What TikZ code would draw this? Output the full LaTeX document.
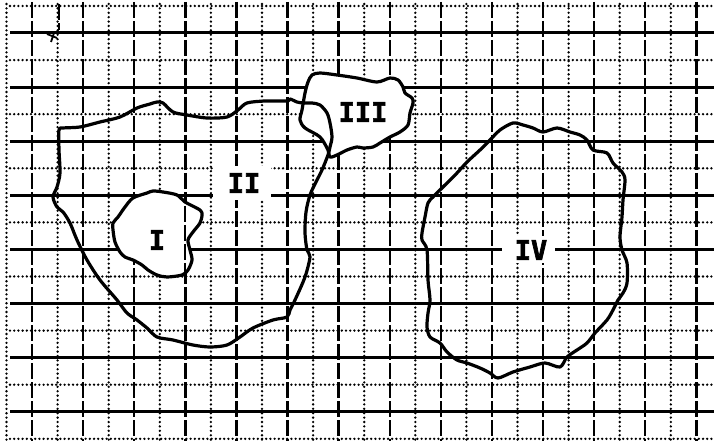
\documentclass[tikz,border=0pt]{standalone}
\usepackage{fontspec}
\newfontfamily\regionfont[FakeBold=2.5]{DejaVu Sans Mono}
\usetikzlibrary{positioning}

\begin{document}
\begin{tikzpicture}[x=1bp, y=-1bp,
    hmajor/.style={line width=3bp, black},
    hminor/.style={line width=2.6bp, line cap=round, dash pattern=on 0bp off 4.2bp, black},
    vmajor/.style={line width=2.4bp, dash pattern=on 16bp off 3bp, black},
    vminor/.style={line width=2.6bp, line cap=round, dash pattern=on 0bp off 4.4bp, black},
    outline/.style={line width=3.2bp, line join=round, black},
    region/.style={font=\regionfont\bfseries\fontsize{27}{27}\selectfont, inner sep=0pt, text=black},
    gapbox/.style={fill=white, inner sep=0pt}
]
\useasboundingbox (0,0) rectangle (714,441);
\fill[white] (0,0) rectangle (714,441);

% grid
\foreach \k in {0,...,13}
    \draw[vmajor] (32+51.1*\k,2) -- (32+51.1*\k,441);
\foreach \k in {0,...,13}
    \draw[vminor] (6.5+51.1*\k,4) -- (6.5+51.1*\k,441);
\foreach \k in {0,...,7}
    \draw[hmajor] (10,33+54.1*\k) -- (714,33+54.1*\k);
\foreach \k in {0,...,8}
    \draw[hminor] (10,6+54.1*\k) -- (714,6+54.1*\k);
\draw[vmajor] (59,4) -- (59,30);
\draw[line width=1.8bp] (47,34) -- (57,38) (54,33) -- (51,42);

% hidden parts
\fill[white] plot[smooth cycle, tension=0.5] coordinates {
    (133,198) (147,193) (153,191) (163,192) (177,195) (185,202) (200,210)
    (202,215) (200,223) (193,232) (188,240) (190,250) (192,260) (188,270)
    (182,275) (167,277) (157,275) (148,270) (142,265) (133,260) (125,257)
    (120,252) (115,242) (113,230) (113,223) (118,217) (125,207)};
\draw[vmajor] (185,206) -- (185,278);
\fill[white] plot[smooth cycle, tension=0.5] coordinates {
    (312,75) (320,73) (337,75) (357,78) (377,82) (390,78) (398,80) (403,87)
    (405,93) (412,98) (413,103) (410,113) (408,125) (400,132) (390,137)
    (380,143) (373,147) (363,148) (357,147) (347,150) (337,155) (330,157)
    (328,150) (320,137) (305,128) (300,120) (302,110) (305,93) (308,82)};

% region II
\draw[outline] plot[smooth cycle, tension=0.5] coordinates {
    (59,150) (59,130) (63,128) (80,127) (100,122) (120,117) (137,108)
    (150,104) (157,102) (163,103) (173,112) (187,115) (207,118) (227,117)
    (238,110) (247,103) (265,101) (287,101) (290,99) (297,102) (303,103)
    (312,103) (320,105) (327,113) (330,123) (332,137) (330,147) (328,155)
    (322,170) (316,182) (310,195) (306,212) (305,233) (307,250) (310,257)
    (305,277) (295,300) (290,310) (287,317) (273,320) (253,328) (240,337)
    (227,345) (210,347) (193,345) (173,340) (157,337) (147,328) (137,320)
    (127,313) (117,300) (100,280) (87,260) (77,240) (70,223) (63,212)
    (57,207) (53,197) (57,187) (60,173)};
% region I
\draw[outline] plot[smooth cycle, tension=0.5] coordinates {
    (133,198) (147,193) (153,191) (163,192) (177,195) (185,202) (200,210)
    (202,215) (200,223) (193,232) (188,240) (190,250) (192,260) (188,270)
    (182,275) (167,277) (157,275) (148,270) (142,265) (133,260) (125,257)
    (120,252) (115,242) (113,230) (113,223) (118,217) (125,207)};
% region III
\draw[outline] plot[smooth cycle, tension=0.5] coordinates {
    (312,75) (320,73) (337,75) (357,78) (377,82) (390,78) (398,80) (403,87)
    (405,93) (412,98) (413,103) (410,113) (408,125) (400,132) (390,137)
    (380,143) (373,147) (363,148) (357,147) (347,150) (337,155) (330,157)
    (328,150) (320,137) (305,128) (300,120) (302,110) (305,93) (308,82)};
% region IV
\draw[outline] plot[smooth cycle, tension=0.5] coordinates {
    (490,140) (500,130) (513,123) (523,125) (533,128) (543,132) (557,128)
    (570,132) (580,135) (587,140) (593,150) (607,153) (613,163) (622,172)
    (625,180) (623,200) (622,217) (620,237) (622,250) (627,263) (627,283)
    (623,293) (618,300) (613,310) (607,320) (595,333) (587,343) (577,350)
    (567,357) (560,367) (545,363) (530,367) (513,372) (498,378) (490,373)
    (480,368) (467,363) (457,360) (447,352) (440,343) (430,337) (427,327)
    (428,313) (430,300) (428,280) (427,250) (422,240) (422,233) (425,217)
    (428,203) (433,197) (443,187) (457,173) (467,162) (480,150)};

% labels
\node[region] (lblI) at (157,240) {I};
\node[gapbox, minimum width=58bp, minimum height=34bp] (gapII) at (242,183) {};
\node[region] (lblII) at (244,183) {II};
\node[region] (lblIII) at (363,112) {III};
\node[gapbox, minimum width=53bp, minimum height=27bp] (gapIV) at (528,250) {};
\node[region] (lblIV) at (531,250) {IV};

\end{tikzpicture}
\end{document}
